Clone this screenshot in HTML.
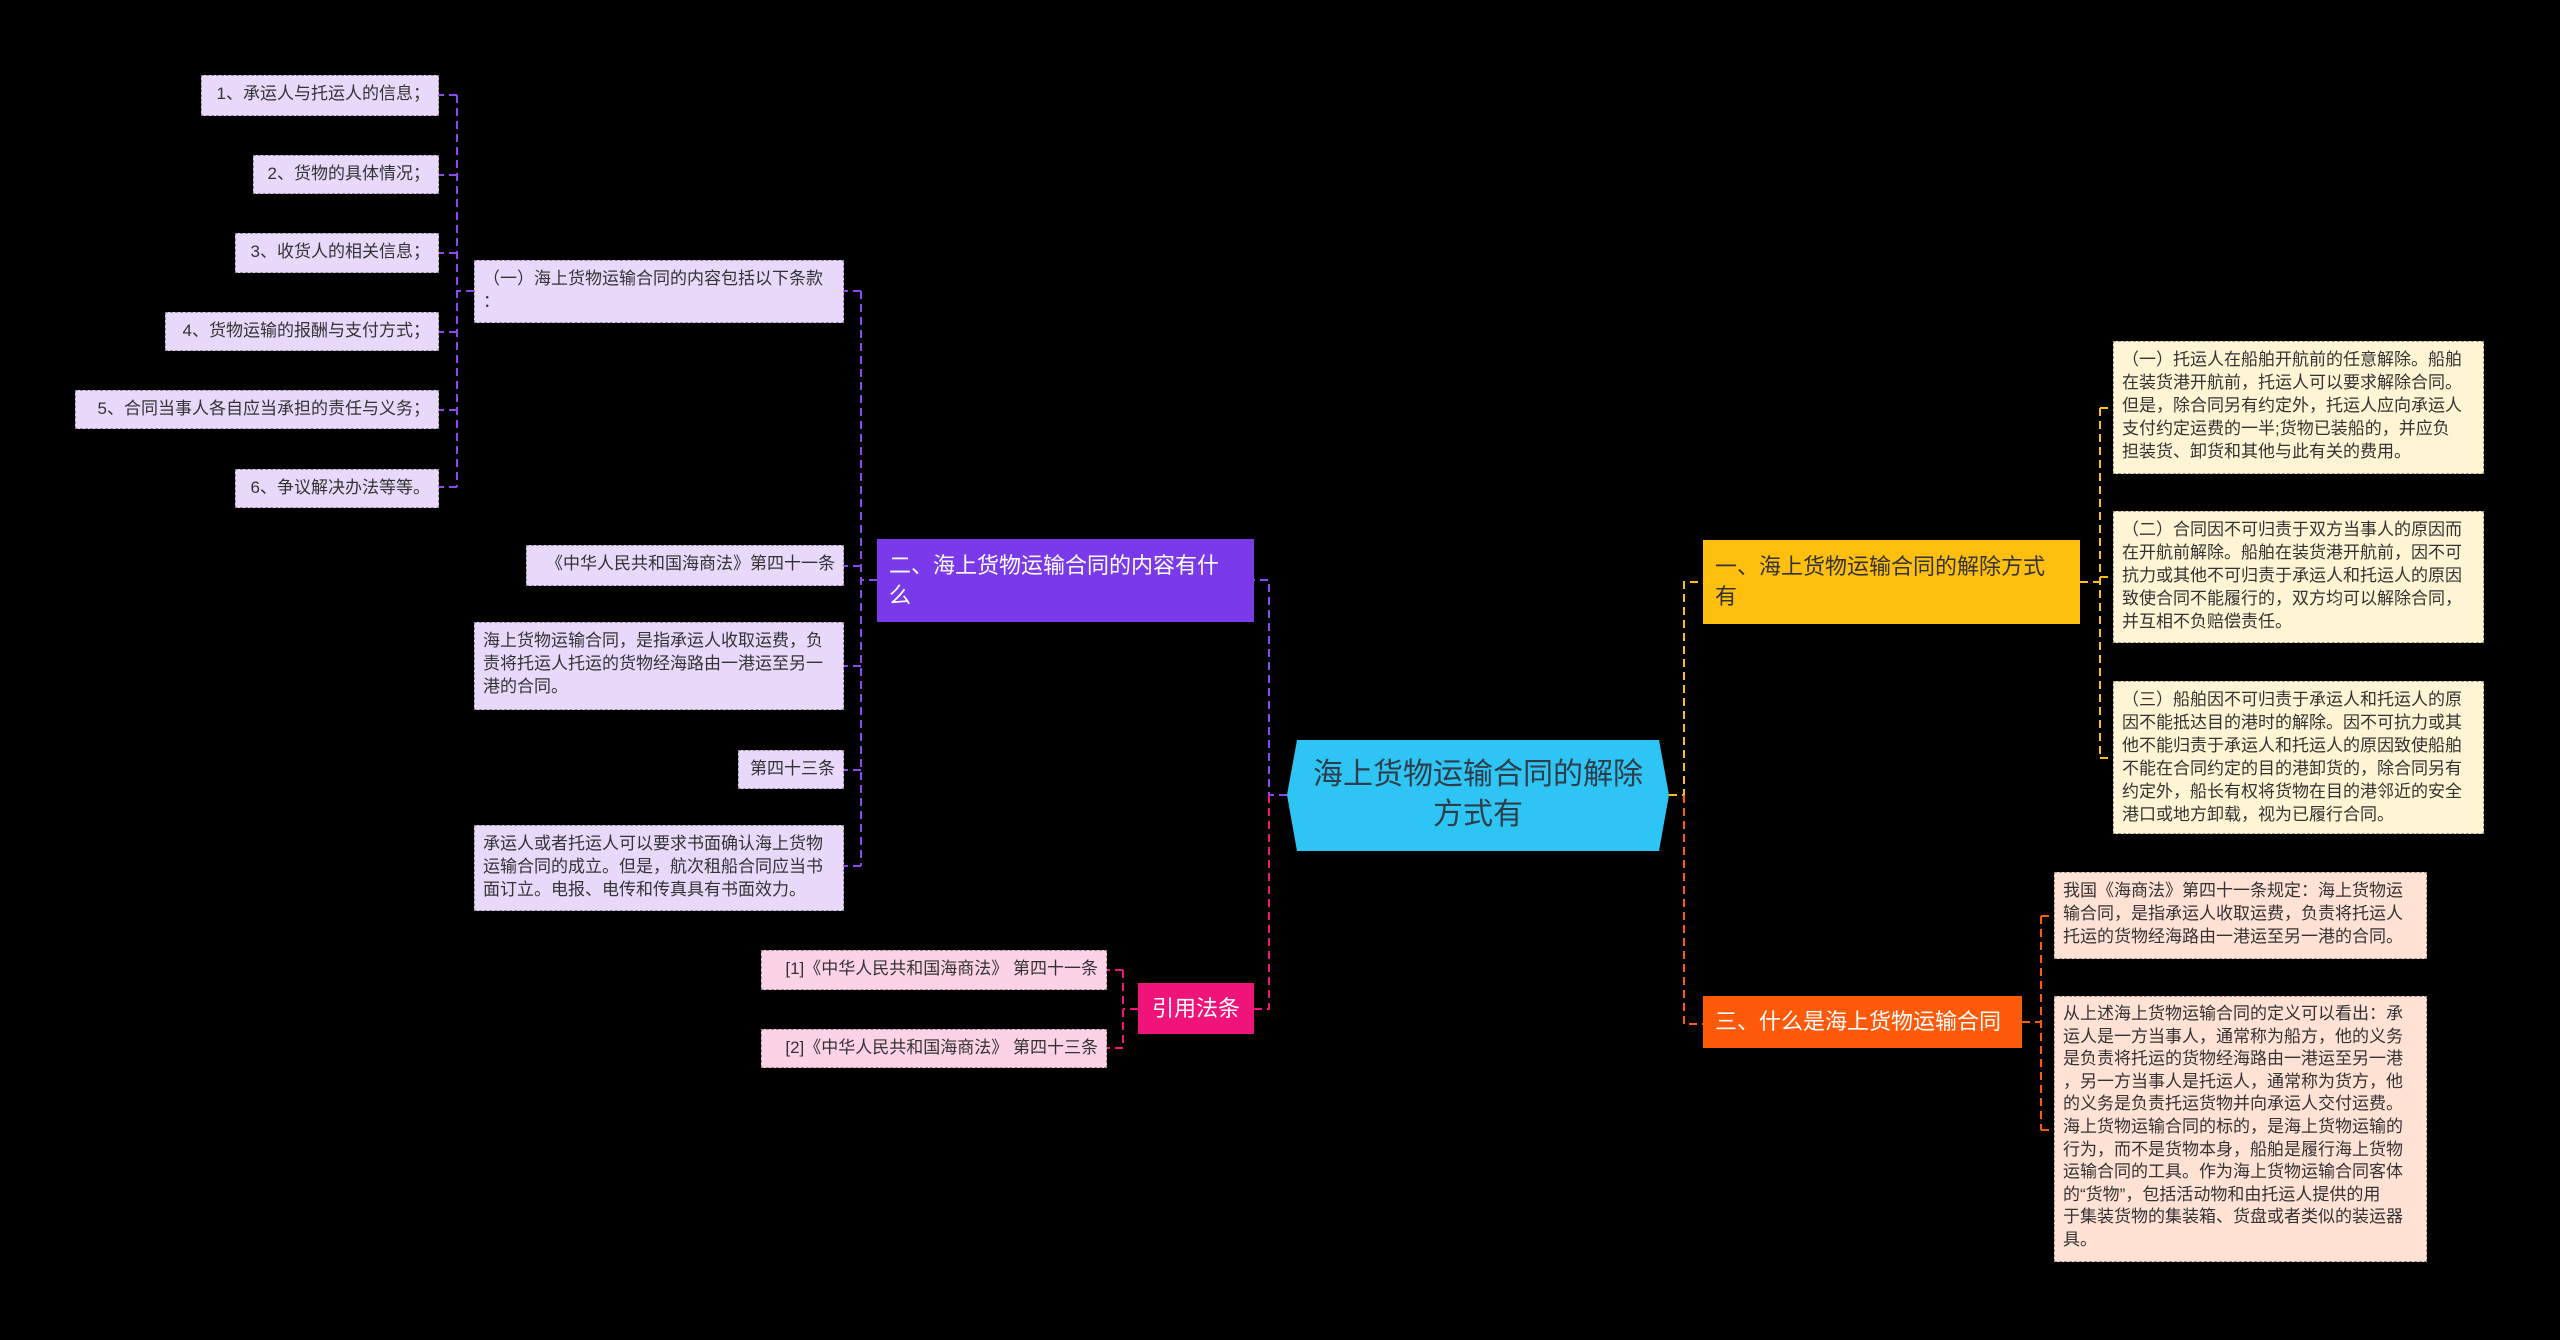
<!DOCTYPE html>
<html><head><meta charset="utf-8"><style>
body{margin:0;width:2560px;height:1340px;background:#000;overflow:hidden;position:relative;font-family:"Liberation Sans","Noto Sans CJK SC",sans-serif}
.n{position:absolute;box-sizing:border-box;white-space:nowrap;color:#333}
.lf{font-size:17px;line-height:23px;padding:6px 8px;border:1px dashed rgba(0,0,0,0.35)}
.pu{background:#e8d9fb}
.cr{background:#fff4d4}
.pe{background:#ffe2d4}
.pk{background:#fcd3e6}
.r{text-align:right}
</style></head><body>
<svg width="2560" height="1340" style="position:absolute;left:0;top:0">
<g fill="none" stroke-width="2" stroke-dasharray="8,5">
<path d="M1287 795 H1269 V580 H1254" stroke="#8a4af0"/>
<path d="M1269 795 V1009 H1254" stroke="#f0137a"/>
<path d="M1669 795 H1684 V582 H1703" stroke="#ffbf0e"/>
<path d="M1684 795 V1024 H1703" stroke="#ff5a0a"/>
<path d="M877 580 H861 M861 291 V866 M861 291 H844 M861 566 H844 M861 666 H844 M861 770 H844 M861 866 H844" stroke="#8a4af0"/>
<path d="M474 291 H457 M457 95 V487 M457 95 H439 M457 175 H439 M457 253 H439 M457 332 H439 M457 410 H439 M457 487 H439" stroke="#8a4af0"/>
<path d="M2080 582 H2100 M2100 408 V758 M2100 408 H2113 M2100 577 H2113 M2100 758 H2113" stroke="#ffbf0e"/>
<path d="M2022 1022 H2041 M2041 916 V1130 M2041 916 H2054 M2041 1130 H2054" stroke="#ff5a0a"/>
<path d="M1138 1009 H1123 M1123 970 V1048 M1123 970 H1107 M1123 1048 H1107" stroke="#f0137a"/>
</g>
<polygon points="1297,740 1659,740 1669,795 1659,851 1297,851 1287,795" fill="#2ec4f3"/>
</svg>
<div class="n" style="left:1287px;top:740px;width:382px;height:111px;font-size:30px;line-height:40px;text-align:center;padding-top:15px;color:#2d3e4a">海上货物运输合同的解除<br>方式有</div>

<div class="n" style="left:1703px;top:540px;width:377px;height:84px;background:#ffbf0e;font-size:22px;line-height:30px;padding:12px 12px">一、海上货物运输合同的解除方式<br>有</div>
<div class="n" style="left:1703px;top:996px;width:319px;height:52px;background:#ff5a0a;color:#fff;font-size:22px;line-height:52px;padding-left:12px">三、什么是海上货物运输合同</div>
<div class="n" style="left:877px;top:539px;width:377px;height:83px;background:#7b3aea;color:#fff;font-size:22px;line-height:30px;padding:12px 12px">二、海上货物运输合同的内容有什<br>么</div>
<div class="n" style="left:1138px;top:983px;width:116px;height:51px;background:#f0137a;color:#fff;font-size:22px;line-height:51px;text-align:center">引用法条</div>

<div class="n lf cr" style="left:2113px;top:341px;width:371px;height:133px">（一）托运人在船舶开航前的任意解除。船舶<br>在装货港开航前，托运人可以要求解除合同。<br>但是，除合同另有约定外，托运人应向承运人<br>支付约定运费的一半;货物已装船的，并应负<br>担装货、卸货和其他与此有关的费用。</div>
<div class="n lf cr" style="left:2113px;top:511px;width:371px;height:132px">（二）合同因不可归责于双方当事人的原因而<br>在开航前解除。船舶在装货港开航前，因不可<br>抗力或其他不可归责于承运人和托运人的原因<br>致使合同不能履行的，双方均可以解除合同，<br>并互相不负赔偿责任。</div>
<div class="n lf cr" style="left:2113px;top:681px;width:371px;height:153px">（三）船舶因不可归责于承运人和托运人的原<br>因不能抵达目的港时的解除。因不可抗力或其<br>他不能归责于承运人和托运人的原因致使船舶<br>不能在合同约定的目的港卸货的，除合同另有<br>约定外，船长有权将货物在目的港邻近的安全<br>港口或地方卸载，视为已履行合同。</div>
<div class="n lf pe" style="left:2054px;top:872px;width:373px;height:87px">我国《海商法》第四十一条规定：海上货物运<br>输合同，是指承运人收取运费，负责将托运人<br>托运的货物经海路由一港运至另一港的合同。</div>
<div class="n lf pe" style="left:2054px;top:996px;width:373px;height:266px;line-height:22.6px">从上述海上货物运输合同的定义可以看出：承<br>运人是一方当事人，通常称为船方，他的义务<br>是负责将托运的货物经海路由一港运至另一港<br>，另一方当事人是托运人，通常称为货方，他<br>的义务是负责托运货物并向承运人交付运费。<br>海上货物运输合同的标的，是海上货物运输的<br>行为，而不是货物本身，船舶是履行海上货物<br>运输合同的工具。作为海上货物运输合同客体<br>的“货物”，包括活动物和由托运人提供的用<br>于集装货物的集装箱、货盘或者类似的装运器<br>具。</div>

<div class="n lf pu" style="left:474px;top:260px;width:370px;height:63px">（一）海上货物运输合同的内容包括以下条款<br>：</div>
<div class="n lf pu r" style="left:201px;top:75px;width:238px;height:41px">1、承运人与托运人的信息；</div>
<div class="n lf pu r" style="left:253px;top:155px;width:186px;height:39px">2、货物的具体情况；</div>
<div class="n lf pu r" style="left:235px;top:233px;width:204px;height:40px">3、收货人的相关信息；</div>
<div class="n lf pu r" style="left:165px;top:312px;width:274px;height:39px">4、货物运输的报酬与支付方式；</div>
<div class="n lf pu r" style="left:75px;top:390px;width:364px;height:39px">5、合同当事人各自应当承担的责任与义务；</div>
<div class="n lf pu r" style="left:235px;top:469px;width:204px;height:39px">6、争议解决办法等等。</div>
<div class="n lf pu r" style="left:526px;top:545px;width:318px;height:41px">《中华人民共和国海商法》第四十一条</div>
<div class="n lf pu" style="left:474px;top:622px;width:370px;height:88px">海上货物运输合同，是指承运人收取运费，负<br>责将托运人托运的货物经海路由一港运至另一<br>港的合同。</div>
<div class="n lf pu r" style="left:738px;top:750px;width:106px;height:39px">第四十三条</div>
<div class="n lf pu" style="left:474px;top:825px;width:370px;height:86px">承运人或者托运人可以要求书面确认海上货物<br>运输合同的成立。但是，航次租船合同应当书<br>面订立。电报、电传和传真具有书面效力。</div>
<div class="n lf pk r" style="left:761px;top:950px;width:346px;height:40px">[1]《中华人民共和国海商法》 第四十一条</div>
<div class="n lf pk r" style="left:761px;top:1029px;width:346px;height:39px">[2]《中华人民共和国海商法》 第四十三条</div>
</body></html>
